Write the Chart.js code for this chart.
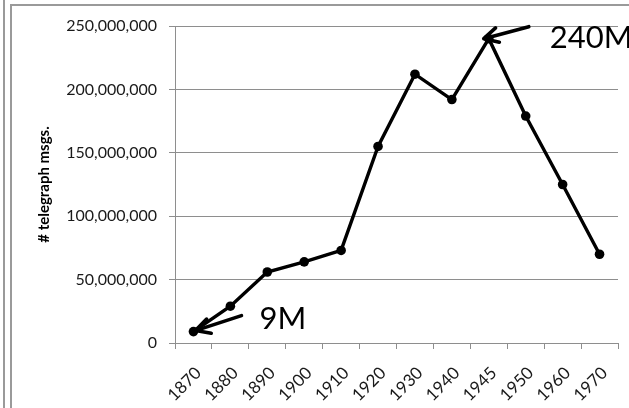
<!DOCTYPE html>
<html>
<head>
<meta charset="utf-8">
<script src="https://cdn.jsdelivr.net/npm/chart.js@4/dist/chart.umd.min.js"></script>
<style>
  html, body { margin: 0; padding: 0; background: #ffffff; }
  #wrap { width: 629px; height: 408px; position: relative; }
</style>
</head>
<body>
<div id="wrap"><canvas id="c" width="629" height="408"></canvas></div>
<script>
// Telegraph messages sent per year
const years = ['1870', '1880', '1890', '1900', '1910', '1920', '1930', '1940', '1945', '1950', '1960', '1970'];
const messages = [9000000, 29000000, 56000000, 64000000, 73000000, 155000000, 212000000, 192000000, 240000000, 179000000, 125000000, 70000000];
const yTicks = [0, 50000000, 100000000, 150000000, 200000000, 250000000];
const callouts = [
  { index: 0, text: '9M' },
  { index: 8, text: '240M' }
];

const FONT = 'Lato, "Open Sans", "Liberation Sans", sans-serif';
const GRID = '#8e8e8e';

// Outer frame lines of the chart box
const framePlugin = {
  id: 'frame',
  beforeDraw(chart) {
    const ctx = chart.ctx;
    ctx.save();
    ctx.fillStyle = '#ffffff';
    ctx.fillRect(0, 0, chart.width, chart.height);
    ctx.strokeStyle = '#9a9a9a';
    ctx.lineWidth = 2;
    ctx.beginPath();
    ctx.moveTo(4, 0); ctx.lineTo(4, chart.height);
    ctx.moveTo(11, chart.height); ctx.lineTo(11, 5); ctx.lineTo(chart.width, 5);
    ctx.stroke();
    ctx.restore();
  }
};

// Arrow callouts pointing at selected points
function drawArrow(ctx, x1, y1, x2, y2) {
  const ang = Math.atan2(y2 - y1, x2 - x1);
  const head = 16, spread = Math.PI / 6.5;
  ctx.beginPath();
  ctx.moveTo(x1, y1); ctx.lineTo(x2, y2);
  ctx.moveTo(x2 - head * Math.cos(ang - spread), y2 - head * Math.sin(ang - spread));
  ctx.lineTo(x2, y2);
  ctx.lineTo(x2 - head * Math.cos(ang + spread), y2 - head * Math.sin(ang + spread));
  ctx.stroke();
}

const calloutPlugin = {
  id: 'callouts',
  afterDatasetsDraw(chart) {
    const ctx = chart.ctx;
    const pts = chart.getDatasetMeta(0).data;
    ctx.save();
    ctx.strokeStyle = '#000000';
    ctx.lineWidth = 3.6;
    ctx.lineCap = 'round';
    ctx.lineJoin = 'round';
    ctx.fillStyle = '#000000';
    ctx.font = '31px ' + FONT;
    ctx.textBaseline = 'alphabetic';
    callouts.forEach(c => {
      const p = pts[c.index];
      if (c.index === 0) {
        drawArrow(ctx, p.x + 48, p.y - 16, p.x + 2, p.y - 1);
        ctx.fillText(c.text, p.x + 66, p.y - 3);
      } else {
        drawArrow(ctx, p.x + 40, p.y - 12, p.x - 5, p.y);
        ctx.fillText(c.text, p.x + 61, p.y + 9);
      }
    });
    ctx.restore();
  }
};

new Chart(document.getElementById('c'), {
  type: 'line',
  data: {
    labels: years,
    datasets: [{
      data: messages,
      borderColor: '#000000',
      backgroundColor: '#000000',
      borderWidth: 3.4,
      tension: 0,
      pointRadius: 4.8,
      pointBackgroundColor: '#000000',
      pointBorderWidth: 0,
      fill: false
    }]
  },
  options: {
    responsive: false,
    animation: false,
    events: [],
    layout: { padding: { top: 26, right: 11, left: 0, bottom: 0 } },
    plugins: { legend: { display: false }, tooltip: { enabled: false } },
    scales: {
      x: {
        type: 'category',
        offset: true,
        grid: { drawOnChartArea: false, drawTicks: true, offset: true, tickLength: 6, color: GRID },
        border: { color: GRID, width: 1 },
        ticks: {
          minRotation: 45, maxRotation: 45, autoSkip: false,
          padding: 14, labelOffset: 5, color: '#1a1a1a',
          font: { family: FONT, size: 17 }
        },
        afterFit(scale) { scale.height = 65; }
      },
      y: {
        min: 0, max: 250000000,
        afterBuildTicks(scale) { scale.ticks = yTicks.map(v => ({ value: v })); },
        grid: { color: GRID, tickLength: 6, lineWidth: 1 },
        border: { color: GRID, width: 1 },
        ticks: {
          padding: 12, color: '#1a1a1a',
          font: { family: FONT, size: 16 },
          callback: v => v.toLocaleString('en-US')
        },
        title: {
          display: true,
          text: '# telegraph msgs.',
          color: '#000000',
          font: { family: FONT, size: 15, weight: 'bold' },
          padding: { top: 35, bottom: 0 }
        },
        afterFit(scale) { scale.width = 175; }
      }
    }
  },
  plugins: [framePlugin, calloutPlugin]
});
</script>
</body>
</html>
